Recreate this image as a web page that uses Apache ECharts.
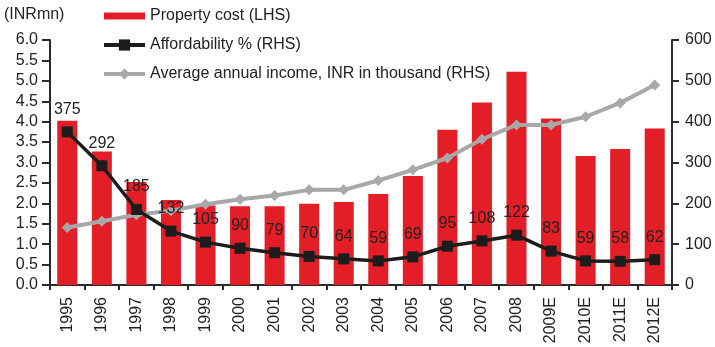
<!DOCTYPE html>
<html>
<head>
<meta charset="utf-8">
<script src="https://cdn.jsdelivr.net/npm/echarts@6/dist/echarts.min.js"></script>
<style>
  html, body { margin: 0; padding: 0; background: #fff; }
  #chart { width: 715px; height: 347px; }
</style>
</head>
<body>
<div id="chart"></div>
<script>
// Years on the category axis (E = estimate)
const years = ['1995', '1996', '1997', '1998', '1999', '2000', '2001', '2002', '2003',
  '2004', '2005', '2006', '2007', '2008', '2009E', '2010E', '2011E', '2012E'];

// Property cost, INR mn (left axis)
const propertyCost = [4.02, 3.27, 2.52, 2.08, 1.95, 1.93, 1.93, 1.99, 2.03,
  2.23, 2.67, 3.80, 4.47, 5.22, 4.08, 3.16, 3.33, 3.83];

// Affordability, % (right axis)
const affordability = [375, 292, 185, 132, 105, 90, 79, 70, 64,
  59, 69, 95, 108, 122, 83, 59, 58, 62];

// Average annual income, INR thousand (right axis)
const income = [141, 156, 172, 182, 198, 210, 219, 233, 233,
  256, 282, 311, 357, 392, 392, 412, 446, 490];

const FONT = '"Liberation Sans", Arial, sans-serif';
const TEXT = '#222';
const AXIS = '#2b2b2b';
const RED = '#e41e26';
const GREY = '#a8a8a8';
const BLACK = '#1c1c1c';

const chart = echarts.init(document.getElementById('chart'), null, { renderer: 'canvas' });

chart.setOption({
  animation: false,
  textStyle: { fontFamily: FONT, color: TEXT },
  title: {
    text: '(INRmn)',
    left: 4,
    top: 7,
    padding: 0,
    textStyle: { fontFamily: FONT, fontSize: 16, fontWeight: 'normal', color: TEXT }
  },
  legend: {
    orient: 'vertical',
    left: 102,
    top: 8,
    padding: 0,
    itemWidth: 41,
    itemHeight: 14,
    itemGap: 13,
    textStyle: { fontFamily: FONT, fontSize: 16, color: TEXT },
    data: [
      { name: 'Property cost (LHS)', icon: 'path://M0,0h42v7h-42z' },
      { name: 'Affordability % (RHS)', lineStyle: { width: 4 } },
      { name: 'Average annual income, INR in thousand (RHS)', lineStyle: { width: 4 } }
    ]
  },
  grid: { left: 50, right: 43, top: 40, bottom: 62 },
  xAxis: {
    type: 'category',
    data: years,
    axisLine: { lineStyle: { color: AXIS, width: 2 } },
    axisTick: { show: true, alignWithLabel: false, length: 5, lineStyle: { color: AXIS, width: 2 } },
    axisLabel: { rotate: 90, fontSize: 16, color: TEXT, fontFamily: FONT, margin: 12, interval: 0 }
  },
  yAxis: [
    {
      type: 'value',
      min: 0, max: 6, interval: 0.5,
      splitLine: { show: false },
      axisLine: { show: true, lineStyle: { color: AXIS, width: 2 } },
      axisTick: { show: true, length: 8, lineStyle: { color: AXIS, width: 2 } },
      axisLabel: {
        fontSize: 16, color: TEXT, fontFamily: FONT, margin: 12,
        formatter: v => v.toFixed(1)
      }
    },
    {
      type: 'value',
      min: 0, max: 600, interval: 100,
      position: 'right',
      splitLine: { show: false },
      axisLine: { show: true, lineStyle: { color: AXIS, width: 2 } },
      axisTick: { show: true, length: 7, lineStyle: { color: AXIS, width: 2 } },
      axisLabel: { fontSize: 16, color: TEXT, fontFamily: FONT, margin: 13 }
    }
  ],
  series: [
    {
      name: 'Property cost (LHS)',
      type: 'bar',
      yAxisIndex: 0,
      data: propertyCost,
      barWidth: '58%',
      itemStyle: { color: RED }
    },
    {
      name: 'Average annual income, INR in thousand (RHS)',
      type: 'line',
      yAxisIndex: 1,
      data: income,
      symbol: 'diamond',
      symbolSize: 11,
      lineStyle: { color: GREY, width: 4 },
      itemStyle: { color: GREY },
      z: 3
    },
    {
      name: 'Affordability % (RHS)',
      type: 'line',
      yAxisIndex: 1,
      data: affordability,
      symbol: 'rect',
      symbolSize: 11,
      lineStyle: { color: BLACK, width: 3.5 },
      itemStyle: { color: BLACK },
      label: {
        show: true,
        position: 'top',
        distance: 9,
        fontSize: 16,
        color: TEXT,
        fontFamily: FONT
      },
      z: 4
    }
  ]
});
</script>
</body>
</html>
